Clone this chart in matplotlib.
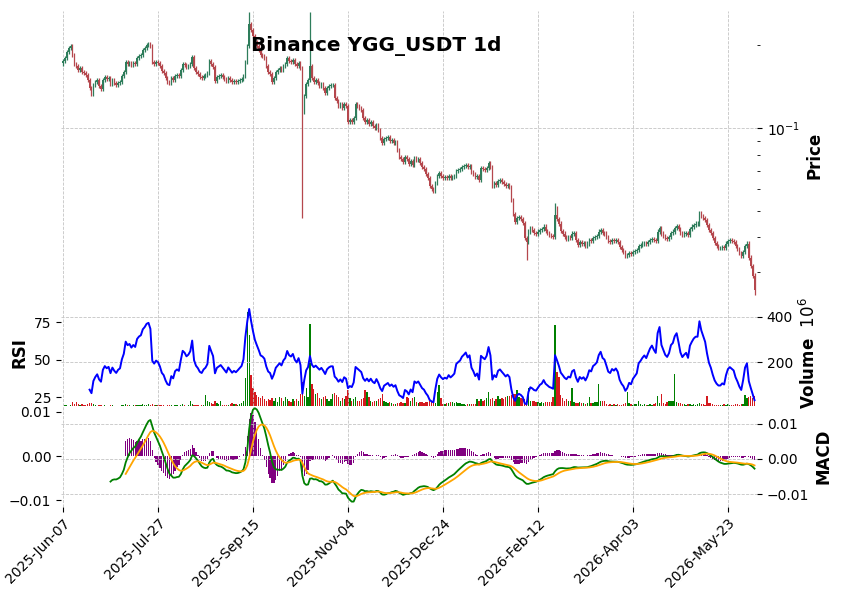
import numpy as np
import pandas as pd
import matplotlib
matplotlib.use("Agg")
import matplotlib.pyplot as plt
import matplotlib.ticker as mticker

# ---- data ----
dates = pd.date_range("2025-06-07", periods=365, freq="D")

close = [
    0.1752, 0.1797, 0.1890, 0.1954, 0.1987, 0.1843, 0.1709, 0.1681, 0.1625, 0.1653,
    0.1598, 0.1585, 0.1559, 0.1495, 0.1398, 0.1329, 0.1433, 0.1470, 0.1495, 0.1421,
    0.1386, 0.1495, 0.1533, 0.1507, 0.1520, 0.1445, 0.1495, 0.1458, 0.1433, 0.1458,
    0.1470, 0.1546, 0.1598, 0.1738, 0.1709, 0.1723, 0.1695, 0.1723, 0.1709, 0.1797,
    0.1827, 0.1843, 0.1921, 0.1954, 0.2004, 0.2020, 0.1987, 0.1738, 0.1709, 0.1738,
    0.1723, 0.1681, 0.1612, 0.1585, 0.1520, 0.1470, 0.1458, 0.1520, 0.1495, 0.1546,
    0.1559, 0.1546, 0.1625, 0.1709, 0.1695, 0.1667, 0.1681, 0.1709, 0.1812, 0.1653,
    0.1598, 0.1572, 0.1533, 0.1520, 0.1546, 0.1559, 0.1585, 0.1752, 0.1709, 0.1667,
    0.1482, 0.1533, 0.1546, 0.1559, 0.1533, 0.1507, 0.1482, 0.1520, 0.1495, 0.1470,
    0.1482, 0.1470, 0.1482, 0.1495, 0.1507, 0.1546, 0.1738, 0.1987, 0.2388, 0.2272,
    0.2161, 0.2055, 0.1987, 0.1921, 0.1843, 0.1827, 0.1797, 0.1681, 0.1598, 0.1572,
    0.1470, 0.1520, 0.1598, 0.1625, 0.1653, 0.1625, 0.1681, 0.1709, 0.1797, 0.1752,
    0.1738, 0.1767, 0.1709, 0.1681, 0.1723, 0.1653, 0.1143, 0.1307, 0.1445, 0.1495,
    0.1681, 0.1520, 0.1470, 0.1495, 0.1458, 0.1421, 0.1445, 0.1398, 0.1341, 0.1398,
    0.1421, 0.1433, 0.1433, 0.1286, 0.1254, 0.1202, 0.1223, 0.1182, 0.1223, 0.1202,
    0.1052, 0.1069, 0.1052, 0.1087, 0.1223, 0.1202, 0.1182, 0.1163, 0.1087, 0.1052,
    0.1069, 0.1034, 0.1052, 0.1017, 0.1000, 0.1025, 0.0983, 0.0920, 0.0882, 0.0912,
    0.0920, 0.0927, 0.0897, 0.0904, 0.0882, 0.0889, 0.0832, 0.0784, 0.0771, 0.0752,
    0.0784, 0.0771, 0.0740, 0.0759, 0.0734, 0.0777, 0.0765, 0.0771, 0.0746, 0.0721,
    0.0709, 0.0680, 0.0658, 0.0615, 0.0600, 0.0590, 0.0631, 0.0669, 0.0686, 0.0669,
    0.0658, 0.0663, 0.0658, 0.0669, 0.0658, 0.0663, 0.0669, 0.0698, 0.0704, 0.0709,
    0.0721, 0.0727, 0.0734, 0.0721, 0.0727, 0.0692, 0.0680, 0.0663, 0.0669, 0.0647,
    0.0715, 0.0709, 0.0704, 0.0715, 0.0746, 0.0721, 0.0615, 0.0631, 0.0620, 0.0642,
    0.0647, 0.0636, 0.0626, 0.0615, 0.0620, 0.0610, 0.0547, 0.0487, 0.0455, 0.0471,
    0.0475, 0.0467, 0.0451, 0.0398, 0.0385, 0.0419, 0.0433, 0.0426, 0.0415, 0.0412,
    0.0419, 0.0426, 0.0429, 0.0437, 0.0422, 0.0415, 0.0408, 0.0405, 0.0401, 0.0483,
    0.0467, 0.0448, 0.0422, 0.0412, 0.0401, 0.0395, 0.0401, 0.0398, 0.0412, 0.0415,
    0.0391, 0.0375, 0.0385, 0.0379, 0.0382, 0.0372, 0.0379, 0.0391, 0.0388, 0.0398,
    0.0401, 0.0405, 0.0419, 0.0426, 0.0415, 0.0412, 0.0401, 0.0388, 0.0385, 0.0391,
    0.0388, 0.0391, 0.0385, 0.0369, 0.0360, 0.0354, 0.0342, 0.0345, 0.0351, 0.0348,
    0.0354, 0.0357, 0.0360, 0.0372, 0.0375, 0.0379, 0.0382, 0.0379, 0.0385, 0.0391,
    0.0395, 0.0391, 0.0388, 0.0419, 0.0433, 0.0412, 0.0405, 0.0398, 0.0395, 0.0401,
    0.0415, 0.0419, 0.0433, 0.0440, 0.0429, 0.0415, 0.0408, 0.0412, 0.0415, 0.0408,
    0.0429, 0.0437, 0.0444, 0.0448, 0.0448, 0.0491, 0.0479, 0.0471, 0.0463, 0.0444,
    0.0426, 0.0415, 0.0398, 0.0382, 0.0372, 0.0366, 0.0366, 0.0369, 0.0366, 0.0379,
    0.0388, 0.0391, 0.0388, 0.0385, 0.0372, 0.0363, 0.0351, 0.0342, 0.0354, 0.0372,
    0.0379, 0.0337, 0.0315, 0.0290, 0.0258,
]
first_open = 0.1720

# volume in millions
volume = [
    8, 10, 12, 8, 9, 22, 15, 23, 14, 12,
    15, 10, 12, 14, 18, 20, 16, 10, 8, 9,
    10, 8, 9, 7, 8, 10, 9, 8, 7, 8,
    8, 10, 12, 14, 10, 9, 8, 9, 10, 9,
    10, 12, 14, 12, 10, 14, 12, 16, 10, 9,
    10, 9, 12, 10, 8, 11, 9, 10, 8, 12,
    9, 8, 12, 14, 10, 8, 9, 30, 15, 12,
    10, 12, 8, 9, 10, 54, 28, 22, 20, 16,
    30, 18, 15, 28, 12, 10, 9, 12, 14, 18,
    16, 14, 12, 15, 20, 28, 130, 420, 320, 145,
    85, 70, 55, 45, 40, 48, 35, 30, 38, 32,
    40, 30, 42, 25, 45, 40, 30, 45, 35, 28,
    25, 35, 30, 35, 28, 60, 112, 50, 85, 45,
    367, 105, 80, 60, 65, 40, 35, 45, 50, 35,
    30, 35, 60, 62, 55, 45, 30, 40, 35, 50,
    75, 40, 30, 35, 45, 30, 28, 35, 40, 75,
    70, 45, 30, 25, 28, 30, 35, 40, 60, 30,
    25, 20, 22, 18, 15, 15, 20, 18, 22, 20,
    18, 45, 40, 30, 42, 45, 25, 20, 22, 25,
    20, 22, 25, 28, 30, 25, 20, 68, 98, 40,
    15, 14, 18, 20, 25, 22, 18, 25, 20, 18,
    15, 14, 12, 14, 15, 13, 14, 16, 35, 30,
    38, 30, 32, 40, 70, 35, 40, 30, 38, 50,
    35, 40, 38, 45, 50, 52, 55, 57, 60, 77,
    45, 40, 38, 35, 30, 85, 30, 28, 30, 25,
    22, 20, 25, 20, 22, 25, 22, 25, 45, 362,
    155, 134, 55, 40, 30, 35, 28, 30, 85, 25,
    20, 18, 22, 20, 18, 15, 20, 45, 18, 20,
    22, 25, 105, 30, 28, 30, 15, 12, 14, 12,
    15, 12, 14, 10, 12, 15, 18, 70, 20, 15,
    12, 14, 16, 30, 15, 12, 14, 10, 12, 14,
    12, 15, 18, 50, 20, 60, 20, 15, 25, 30,
    28, 30, 147, 25, 20, 18, 15, 14, 12, 15,
    14, 12, 15, 12, 14, 20, 15, 14, 12, 50,
    20, 18, 15, 12, 10, 12, 10, 12, 14, 12,
    15, 12, 10, 12, 14, 15, 12, 14, 15, 55,
    40, 45, 50, 42, 48,
]

# long wicks that stand out
high_spikes = {98: 0.264, 130: 0.264, 259: 0.0533, 260: 0.0520}
low_spikes = {126: 0.0471, 244: 0.0331, 364: 0.0247}

title = "Binance YGG_USDT 1d"

# ---- build frame ----
df = pd.DataFrame({"close": close, "volume": volume}, index=dates)
df["open"] = df["close"].shift(1).fillna(first_open)
df["high"] = np.maximum(df["open"], df["close"]) * 1.02
df["low"] = np.minimum(df["open"], df["close"]) / 1.02
for k, v in high_spikes.items():
    df.iloc[k, df.columns.get_loc("high")] = v
for k, v in low_spikes.items():
    df.iloc[k, df.columns.get_loc("low")] = v

# RSI 14, Wilder smoothing seeded with a plain mean
d = df["close"].diff().values
g = np.where(d > 0, d, 0.0)
l = np.where(d < 0, -d, 0.0)
rsi = np.full(len(d), np.nan)
ag, al = g[1:15].mean(), l[1:15].mean()
rsi[14] = 100 - 100 / (1 + ag / al)
for i in range(15, len(d)):
    ag = (ag * 13 + g[i]) / 14
    al = (al * 13 + l[i]) / 14
    rsi[i] = 100 - 100 / (1 + ag / al)

# MACD 12/26/9
ema12 = df["close"].ewm(span=12, adjust=False, min_periods=12).mean()
ema26 = df["close"].ewm(span=26, adjust=False, min_periods=26).mean()
macd = ema12 - ema26
signal = macd.ewm(span=9, adjust=False, min_periods=9).mean()
hist = macd - signal

x = np.arange(len(df))
up = (df["close"] >= df["open"]).values
up_c, dn_c = "#2e7d5b", "#b5474d"
candle_colors = np.where(up, up_c, dn_c)
vol_colors = np.where(up, "green", "#d41a1f")

# ---- figure ----
W, H = 842, 600
fig = plt.figure(figsize=(W / 100, H / 100), dpi=100)
L, R = 61 / W, 696 / W
ax = fig.add_axes([L, 1 - 300 / H, R, 289 / H])
axv = fig.add_axes([L, 1 - 406 / H, R, 106 / H])
axm = fig.add_axes([L, 1 - 506.5 / H, R, 100.5 / H])
axr = axv.twinx()
axh = axm.twinx()

grid_kw = dict(linestyle="--", color="#c4c4c4", linewidth=0.6)
xt = np.arange(0, 365, 50)

# candles
ax.vlines(x, df["low"], df["high"], colors=candle_colors, linewidth=0.9)
ax.bar(x, (df["close"] - df["open"]).abs(), bottom=np.minimum(df["open"], df["close"]),
       width=0.75, color=candle_colors, linewidth=0)
ax.set_yscale("log")
ax.set_ylim(0.02368, 0.2663)
ax.yaxis.tick_right()
ax.yaxis.set_label_position("right")
ax.set_ylabel("Price", fontsize=12, fontweight="bold")
ax.grid(True, which="major", **grid_kw)

# volume (right) + rsi (left)
axv.bar(x, df["volume"], width=0.7, color=vol_colors, linewidth=0)
axv.set_ylim(6, 474)
axv.yaxis.set_major_locator(mticker.MultipleLocator(200))
axv.yaxis.tick_right()
axv.yaxis.set_label_position("right")
axv.set_ylabel("Volume  $10^{6}$", fontsize=12, fontweight="bold")
axv.grid(True, **grid_kw)

axr.plot(x, rsi, color="blue", linewidth=1.4)
axr.set_ylim(19, 89.7)
axr.yaxis.set_major_locator(mticker.FixedLocator([25, 50, 75]))
axr.yaxis.tick_left()
axr.yaxis.set_label_position("left")
axr.set_ylabel("RSI", fontsize=12, fontweight="bold")

# macd: histogram on left scale, lines on right scale
axh.bar(x, hist, width=0.7, color="purple", linewidth=0)
axh.set_ylim(-0.01135, 0.01124)
axh.yaxis.set_major_locator(mticker.MultipleLocator(0.01))
axh.yaxis.tick_left()
axm.set_zorder(axh.get_zorder() + 1)
axm.patch.set_visible(False)
axm.plot(x, macd, color="green", linewidth=1.3)
axm.plot(x, signal, color="orange", linewidth=1.3)
axm.set_ylim(-0.01357, 0.01514)
axm.yaxis.set_major_locator(mticker.MultipleLocator(0.01))
axm.yaxis.tick_right()
axm.yaxis.set_label_position("right")
axm.set_ylabel("MACD", fontsize=12, fontweight="bold")
axm.grid(True, **grid_kw)

for a in (ax, axv, axr, axm, axh):
    a.set_xlim(-1.05, 365.3)
    a.set_xticks(xt)
    for s in a.spines.values():
        s.set_visible(False)
    a.tick_params(labelsize=10)
for a in (ax, axv, axr, axh):
    a.tick_params(axis="x", length=0, labelbottom=False)
axm.set_xticklabels([d.strftime("%Y-%b-%d") for d in dates[xt]],
                    rotation=45, ha="right", rotation_mode="anchor")

fig.text(376 / W, 1 - 46 / H, title, ha="center", va="center",
         fontsize=14.4, fontweight="bold")

fig.savefig("out.png", dpi=100)
